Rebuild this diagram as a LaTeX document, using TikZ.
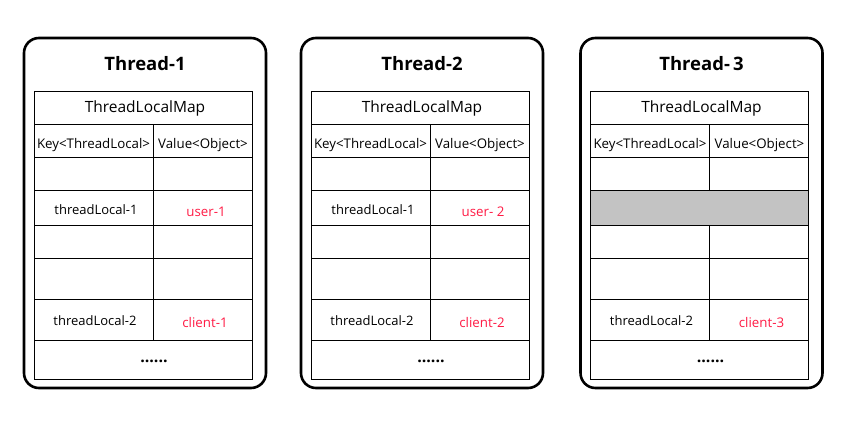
\documentclass[tikz,border=0pt]{standalone}
\usepackage{fontspec}
\setmainfont{Open Sans}
\definecolor{valred}{HTML}{FF1A44}
\definecolor{rowgray}{HTML}{C3C3C3}
\tikzset{
  threadbox/.style={draw, line width=2.6pt, rounded corners=15pt},
  gridline/.style={draw, line width=1pt},
  maptext/.style={font=\fontsize{15.5}{18}\selectfont, inner sep=0pt},
  headtext/.style={font=\fontsize{13.3}{16}\selectfont, inner sep=0pt},
  celltext/.style={font=\fontsize{13}{15}\selectfont, inner sep=0pt},
  valtext/.style={font=\fontsize{13.3}{15}\selectfont, inner sep=0pt, text=valred},
  dottext/.style={font=\bfseries\fontsize{16}{18}\selectfont, inner sep=0pt},
  titletext/.style={font=\bfseries\fontsize{18.5}{22}\selectfont, inner sep=0pt},
}
\newcommand\threadpanel[7]{%
  % #1 shift, #2 prefix, #3 title, #4 key1, #5 val1, #6 val2, #7 gray row (1/0)
  \begin{scope}[xshift=#1pt]
    \draw[threadbox] (24,38) rectangle (266,388);
    \node[titletext] (#2title) at (145,64) {#3};
    \ifnum#7=1
      \fill[rowgray] (34,191) rectangle (252,225);
      \draw[gridline] (153,125) -- (153,191) (153,225) -- (153,340);
    \else
      \draw[gridline] (153,125) -- (153,340);
    \fi
    \draw[gridline] (34,92) rectangle (252,379);
    \foreach \yy in {125,158,191,225,258,299,340} \draw[gridline] (34,\yy) -- (252,\yy);
    \node[maptext] (#2map) at (145,108) {ThreadLocalMap};
    \node[headtext] (#2key) at (93.5,145) {Key<ThreadLocal>};
    \node[headtext] (#2val) at (203,145) {Value<Object>};
    \node[celltext] (#2kone) at (96,210) {#4};
    \node[valtext] (#2vone) at (206,212) {#5};
    \node[celltext] (#2ktwo) at (95,321) {threadLocal-2};
    \node[valtext] (#2vtwo) at (205,323) {#6};
    \node[dottext] (#2dots) at (154,361.5) {......};
  \end{scope}}
\begin{document}
\begin{tikzpicture}[x=1pt,y=-1pt]
\useasboundingbox[fill=white] (0,0) rectangle (843,422);
\threadpanel{0}{a}{Thread-1}{threadLocal-1}{user-1}{client-1}{0}
\threadpanel{277}{b}{Thread-2}{threadLocal-1}{user- 2}{client-2}{0}
\threadpanel{556.5}{c}{Thread-\,3}{}{}{client-3}{1}
\end{tikzpicture}
\end{document}
